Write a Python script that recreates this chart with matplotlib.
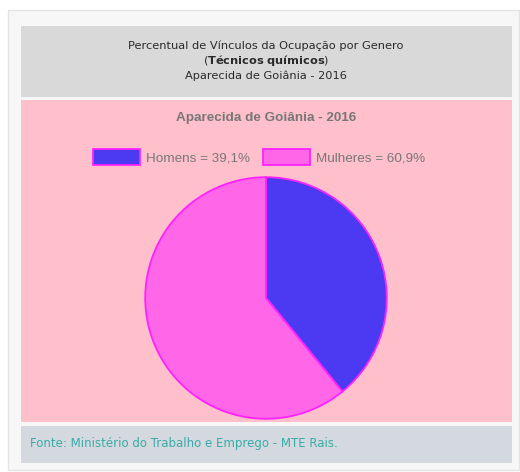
import matplotlib.pyplot as plt
from matplotlib.patches import Rectangle

labels = ["Homens", "Mulheres"]
shares = [39.1, 60.9]
colors = ["#4c3af2", "#ff66e8"]

title_lines = ["Percentual de Vínculos da Ocupação por Genero",
               "Técnicos químicos",
               "Aparecida de Goiânia - 2016"]
chart_title = "Aparecida de Goiânia - 2016"
source = "Fonte: Ministério do Trabalho e Emprego - MTE Rais."

W, H = 520, 472
fig = plt.figure(figsize=(W / 100, H / 100), dpi=100)
fig.patch.set_facecolor("white")


def box(x0, y0, x1, y1, fc, ec="none", lw=0):
    # pixel coords, measured from top-left
    fig.patches.append(Rectangle((x0 / W, 1 - y1 / H), (x1 - x0) / W, (y1 - y0) / H,
                                 transform=fig.transFigure, fc=fc, ec=ec, lw=lw, zorder=-5))


box(8, 10, 519, 470, "#f7f7f7", "#e4e4e4", 1)
box(21, 26, 512, 97, "#d9d9d9")
box(21, 100, 512, 422, "#ffc0cb")
box(21, 426, 512, 463, "#d3d9df")

fs = 8.2
fig.text(266 / W, 1 - 46 / H, title_lines[0], ha="center", va="center", fontsize=fs, color="#2a2a2a")
fig.text(266 / W, 1 - 61 / H, r"(" + r"$\bf{" + title_lines[1].replace(" ", r"\ ") + "}$" + ")",
         ha="center", va="center", fontsize=fs, color="#2a2a2a")
fig.text(266 / W, 1 - 76 / H, title_lines[2], ha="center", va="center", fontsize=fs, color="#2a2a2a")
fig.text(266 / W, 1 - 118 / H, chart_title, ha="center", va="center", fontsize=9.7,
         color="#777777", fontweight="bold", family="Liberation Sans")
fig.text(30 / W, 1 - 444 / H, source, ha="left", va="center", fontsize=8.5, color="#3aaba8")

# pie
r = 122
cx, cy = 266, 298
ax = fig.add_axes([(cx - r) / W, 1 - (cy + r) / H, 2 * r / W, 2 * r / H])
wedges, _ = ax.pie(shares, colors=colors, startangle=90, counterclock=False,
                   wedgeprops=dict(edgecolor="#ff22ff", linewidth=1.3))
ax.set_xlim(-1.01, 1.01)
ax.set_ylim(-1.01, 1.01)
ax.set_aspect("equal")
ax.axis("off")

leg_labels = [f"{l} = {v:.1f}%".replace(".", ",") for l, v in zip(labels, shares)]
fig.legend(wedges, leg_labels, loc="center", bbox_to_anchor=(259 / W, 1 - 157 / H), ncol=2,
           frameon=False, handlelength=3.5, handleheight=1.35, columnspacing=0.9,
           handletextpad=0.45, labelcolor="#777777", prop=dict(family="Liberation Sans", size=9.7))

fig.savefig("out.png", dpi=100)
